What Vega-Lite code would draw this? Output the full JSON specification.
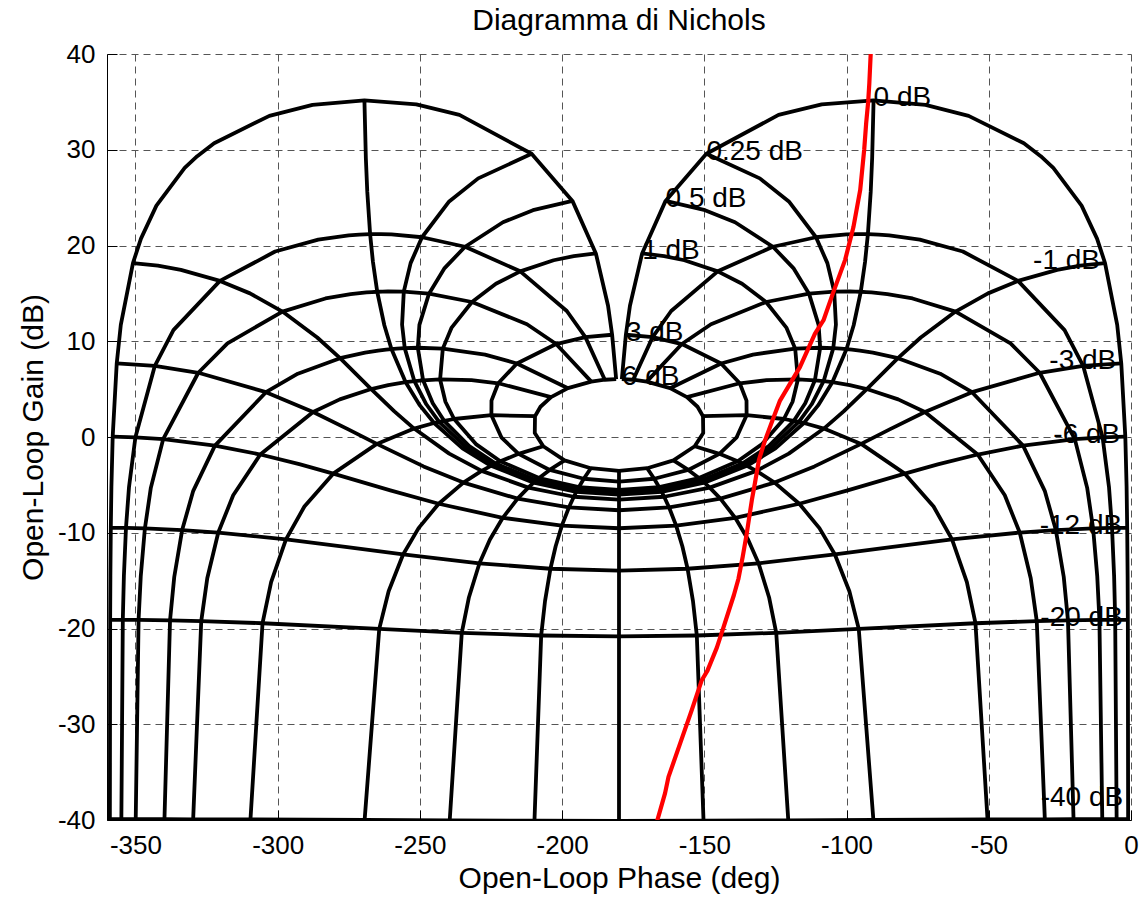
{
"$schema":"https://vega.github.io/schema/vega-lite/v6.json",
"width":1024,"height":766,
"autosize":{"type":"none"},
"padding":{"left":107,"top":54,"right":17,"bottom":82},
"background":"white",
"config":{"view":{"stroke":null},"font":"Liberation Sans"},
"title":{"text":"Diagramma di Nichols","fontSize":30,"fontWeight":"normal","font":"Liberation Sans","color":"#000","offset":5},
"datasets":{
"mesh":[
{"m":6,"k":1,"x":-179,"y":6.04},{"m":3,"k":1,"x":-177.58,"y":10.68},{"m":2,"k":1,"x":-176.15,"y":13.71},{"m":1,"k":1,"x":-171.87,"y":19.17},{"m":0.5,"k":1,"x":-163.63,"y":24.66},{"m":0.25,"k":1,"x":-149.27,"y":29.58},{"m":0.1,"k":1,"x":-123.91,"y":33.64},{"m":0.05,"k":1,"x":-108.75,"y":34.74},{"m":0,"k":1,"x":-90.5,"y":35.16},{"m":-0.05,"k":1,"x":-72.25,"y":34.69},{"m":-0.1,"k":1,"x":-57.09,"y":33.54},{"m":-0.2,"k":1,"x":-37.66,"y":30.68},{"m":-0.25,"k":1,"x":-31.73,"y":29.33},{"m":-0.3,"k":1,"x":-27.31,"y":28.1},{"m":-0.5,"k":1,"x":-17.37,"y":24.16},{"m":-0.75,"k":1,"x":-11.94,"y":20.72},{"m":-1,"k":1,"x":-9.13,"y":18.17},{"m":-2,"k":1,"x":-4.85,"y":11.71},{"m":-3,"k":1,"x":-3.42,"y":7.68},{"m":-6,"k":1,"x":-2,"y":0.04},{"m":-9,"k":1,"x":-1.55,"y":-5.2},{"m":-12,"k":1,"x":-1.34,"y":-9.49},{"m":-16,"k":1,"x":-1.19,"y":-14.5},{"m":-20,"k":1,"x":-1.11,"y":-19.09},{"m":-40,"k":1,"x":-1.01,"y":-39.91},{"m":-60,"k":1,"x":-1,"y":-59.99},
{"m":6,"k":359,"x":-181,"y":6.04},{"m":3,"k":359,"x":-182.42,"y":10.68},{"m":2,"k":359,"x":-183.85,"y":13.71},{"m":1,"k":359,"x":-188.13,"y":19.17},{"m":0.5,"k":359,"x":-196.37,"y":24.66},{"m":0.25,"k":359,"x":-210.73,"y":29.58},{"m":0.1,"k":359,"x":-236.09,"y":33.64},{"m":0.05,"k":359,"x":-251.25,"y":34.74},{"m":0,"k":359,"x":-269.5,"y":35.16},{"m":-0.05,"k":359,"x":-287.75,"y":34.69},{"m":-0.1,"k":359,"x":-302.91,"y":33.54},{"m":-0.2,"k":359,"x":-322.34,"y":30.68},{"m":-0.25,"k":359,"x":-328.27,"y":29.33},{"m":-0.3,"k":359,"x":-332.69,"y":28.1},{"m":-0.5,"k":359,"x":-342.63,"y":24.16},{"m":-0.75,"k":359,"x":-348.06,"y":20.72},{"m":-1,"k":359,"x":-350.87,"y":18.17},{"m":-2,"k":359,"x":-355.15,"y":11.71},{"m":-3,"k":359,"x":-356.58,"y":7.68},{"m":-6,"k":359,"x":-358,"y":0.04},{"m":-9,"k":359,"x":-358.45,"y":-5.2},{"m":-12,"k":359,"x":-358.66,"y":-9.49},{"m":-16,"k":359,"x":-358.81,"y":-14.5},{"m":-20,"k":359,"x":-358.89,"y":-19.09},{"m":-40,"k":359,"x":-358.99,"y":-39.91},{"m":-60,"k":359,"x":-359,"y":-59.99},
{"m":6,"k":5,"x":-175.01,"y":5.98},{"m":3,"k":5,"x":-168.18,"y":10.43},{"m":2,"k":5,"x":-161.65,"y":13.16},{"m":1,"k":5,"x":-145.29,"y":17.3},{"m":0.5,"k":5,"x":-125.89,"y":19.87},{"m":0.25,"k":5,"x":-110.74,"y":20.86},{"m":0.1,"k":5,"x":-100.01,"y":21.16},{"m":0.05,"k":5,"x":-96.27,"y":21.19},{"m":0,"k":5,"x":-92.5,"y":21.19},{"m":-0.05,"k":5,"x":-88.73,"y":21.14},{"m":-0.1,"k":5,"x":-84.99,"y":21.06},{"m":-0.25,"k":5,"x":-74.26,"y":20.61},{"m":-0.5,"k":5,"x":-59.11,"y":19.37},{"m":-1,"k":5,"x":-39.71,"y":16.3},{"m":-2,"k":5,"x":-23.35,"y":11.16},{"m":-3,"k":5,"x":-16.82,"y":7.43},{"m":-6,"k":5,"x":-9.99,"y":-0.03},{"m":-9,"k":5,"x":-7.74,"y":-5.22},{"m":-12,"k":5,"x":-6.67,"y":-9.5},{"m":-16,"k":5,"x":-5.94,"y":-14.51},{"m":-20,"k":5,"x":-5.56,"y":-19.09},{"m":-40,"k":5,"x":-5.05,"y":-39.91},{"m":-60,"k":5,"x":-5.01,"y":-59.99},
{"m":6,"k":355,"x":-184.99,"y":5.98},{"m":3,"k":355,"x":-191.82,"y":10.43},{"m":2,"k":355,"x":-198.35,"y":13.16},{"m":1,"k":355,"x":-214.71,"y":17.3},{"m":0.5,"k":355,"x":-234.11,"y":19.87},{"m":0.25,"k":355,"x":-249.26,"y":20.86},{"m":0.1,"k":355,"x":-259.99,"y":21.16},{"m":0.05,"k":355,"x":-263.73,"y":21.19},{"m":0,"k":355,"x":-267.5,"y":21.19},{"m":-0.05,"k":355,"x":-271.27,"y":21.14},{"m":-0.1,"k":355,"x":-275.01,"y":21.06},{"m":-0.25,"k":355,"x":-285.74,"y":20.61},{"m":-0.5,"k":355,"x":-300.89,"y":19.37},{"m":-1,"k":355,"x":-320.29,"y":16.3},{"m":-2,"k":355,"x":-336.65,"y":11.16},{"m":-3,"k":355,"x":-343.18,"y":7.43},{"m":-6,"k":355,"x":-350.01,"y":-0.03},{"m":-9,"k":355,"x":-352.26,"y":-5.22},{"m":-12,"k":355,"x":-353.33,"y":-9.5},{"m":-16,"k":355,"x":-354.06,"y":-14.51},{"m":-20,"k":355,"x":-354.44,"y":-19.09},{"m":-40,"k":355,"x":-354.95,"y":-39.91},{"m":-60,"k":355,"x":-354.99,"y":-59.99},
{"m":6,"k":10,"x":-170.25,"y":5.78},{"m":3,"k":10,"x":-157.9,"y":9.71},{"m":2,"k":10,"x":-147.65,"y":11.78},{"m":1,"k":10,"x":-128.31,"y":14.1},{"m":0.5,"k":10,"x":-113.2,"y":14.97},{"m":0.25,"k":10,"x":-104.34,"y":15.18},{"m":0.1,"k":10,"x":-98.76,"y":15.21},{"m":0.05,"k":10,"x":-96.89,"y":15.19},{"m":0,"k":10,"x":-95,"y":15.17},{"m":-0.05,"k":10,"x":-93.12,"y":15.14},{"m":-0.1,"k":10,"x":-91.24,"y":15.11},{"m":-0.25,"k":10,"x":-85.66,"y":14.93},{"m":-0.5,"k":10,"x":-76.8,"y":14.47},{"m":-1,"k":10,"x":-61.69,"y":13.1},{"m":-2,"k":10,"x":-42.35,"y":9.78},{"m":-3,"k":10,"x":-32.1,"y":6.71},{"m":-6,"k":10,"x":-19.75,"y":-0.22},{"m":-9,"k":10,"x":-15.41,"y":-5.31},{"m":-12,"k":10,"x":-13.32,"y":-9.55},{"m":-16,"k":10,"x":-11.87,"y":-14.53},{"m":-20,"k":10,"x":-11.1,"y":-19.1},{"m":-40,"k":10,"x":-10.1,"y":-39.91},{"m":-60,"k":10,"x":-10.01,"y":-59.99},
{"m":6,"k":350,"x":-189.75,"y":5.78},{"m":3,"k":350,"x":-202.1,"y":9.71},{"m":2,"k":350,"x":-212.35,"y":11.78},{"m":1,"k":350,"x":-231.69,"y":14.1},{"m":0.5,"k":350,"x":-246.8,"y":14.97},{"m":0.25,"k":350,"x":-255.66,"y":15.18},{"m":0.1,"k":350,"x":-261.24,"y":15.21},{"m":0.05,"k":350,"x":-263.11,"y":15.19},{"m":0,"k":350,"x":-265,"y":15.17},{"m":-0.05,"k":350,"x":-266.88,"y":15.14},{"m":-0.1,"k":350,"x":-268.76,"y":15.11},{"m":-0.25,"k":350,"x":-274.34,"y":14.93},{"m":-0.5,"k":350,"x":-283.2,"y":14.47},{"m":-1,"k":350,"x":-298.31,"y":13.1},{"m":-2,"k":350,"x":-317.65,"y":9.78},{"m":-3,"k":350,"x":-327.9,"y":6.71},{"m":-6,"k":350,"x":-340.25,"y":-0.22},{"m":-9,"k":350,"x":-344.59,"y":-5.31},{"m":-12,"k":350,"x":-346.68,"y":-9.55},{"m":-16,"k":350,"x":-348.13,"y":-14.53},{"m":-20,"k":350,"x":-348.9,"y":-19.1},{"m":-40,"k":350,"x":-349.9,"y":-39.91},{"m":-60,"k":350,"x":-349.99,"y":-59.99},
{"m":6,"k":20,"x":-162.05,"y":5.1},{"m":3,"k":20,"x":-144.11,"y":7.68},{"m":2,"k":20,"x":-132.91,"y":8.61},{"m":1,"k":20,"x":-118.06,"y":9.23},{"m":0.5,"k":20,"x":-109.27,"y":9.32},{"m":0.25,"k":20,"x":-104.67,"y":9.28},{"m":0.1,"k":20,"x":-101.87,"y":9.23},{"m":0.05,"k":20,"x":-100.94,"y":9.21},{"m":0,"k":20,"x":-100,"y":9.19},{"m":-0.05,"k":20,"x":-99.07,"y":9.16},{"m":-0.1,"k":20,"x":-98.13,"y":9.13},{"m":-0.25,"k":20,"x":-95.34,"y":9.03},{"m":-0.5,"k":20,"x":-90.73,"y":8.82},{"m":-1,"k":20,"x":-81.94,"y":8.23},{"m":-2,"k":20,"x":-67.09,"y":6.61},{"m":-3,"k":20,"x":-55.89,"y":4.68},{"m":-6,"k":20,"x":-37.95,"y":-0.9},{"m":-9,"k":20,"x":-30.32,"y":-5.62},{"m":-12,"k":20,"x":-26.42,"y":-9.72},{"m":-16,"k":20,"x":-23.64,"y":-14.62},{"m":-20,"k":20,"x":-22.16,"y":-19.15},{"m":-40,"k":20,"x":-20.2,"y":-39.92},{"m":-60,"k":20,"x":-20.02,"y":-59.99},
{"m":6,"k":340,"x":-197.95,"y":5.1},{"m":3,"k":340,"x":-215.89,"y":7.68},{"m":2,"k":340,"x":-227.09,"y":8.61},{"m":1,"k":340,"x":-241.94,"y":9.23},{"m":0.5,"k":340,"x":-250.73,"y":9.32},{"m":0.25,"k":340,"x":-255.33,"y":9.28},{"m":0.1,"k":340,"x":-258.13,"y":9.23},{"m":0.05,"k":340,"x":-259.06,"y":9.21},{"m":0,"k":340,"x":-260,"y":9.19},{"m":-0.05,"k":340,"x":-260.93,"y":9.16},{"m":-0.1,"k":340,"x":-261.87,"y":9.13},{"m":-0.25,"k":340,"x":-264.66,"y":9.03},{"m":-0.5,"k":340,"x":-269.27,"y":8.82},{"m":-1,"k":340,"x":-278.06,"y":8.23},{"m":-2,"k":340,"x":-292.91,"y":6.61},{"m":-3,"k":340,"x":-304.11,"y":4.68},{"m":-6,"k":340,"x":-322.05,"y":-0.9},{"m":-9,"k":340,"x":-329.68,"y":-5.62},{"m":-12,"k":340,"x":-333.58,"y":-9.72},{"m":-16,"k":340,"x":-336.36,"y":-14.62},{"m":-20,"k":340,"x":-337.84,"y":-19.15},{"m":-40,"k":340,"x":-339.8,"y":-39.92},{"m":-60,"k":340,"x":-339.98,"y":-59.99},
{"m":6,"k":30,"x":-156.11,"y":4.17},{"m":3,"k":30,"x":-137.55,"y":5.61},{"m":2,"k":30,"x":-128.16,"y":5.93},{"m":1,"k":30,"x":-117.11,"y":6.01},{"m":0.5,"k":30,"x":-111.13,"y":5.92},{"m":0.25,"k":30,"x":-108.07,"y":5.83},{"m":0,"k":30,"x":-105,"y":5.72},{"m":-0.25,"k":30,"x":-101.93,"y":5.58},{"m":-0.5,"k":30,"x":-98.87,"y":5.42},{"m":-1,"k":30,"x":-92.89,"y":5.01},{"m":-2,"k":30,"x":-81.84,"y":3.93},{"m":-3,"k":30,"x":-72.46,"y":2.61},{"m":-6,"k":30,"x":-53.89,"y":-1.83},{"m":-9,"k":30,"x":-44.37,"y":-6.09},{"m":-12,"k":30,"x":-39.12,"y":-9.98},{"m":-16,"k":30,"x":-35.25,"y":-14.75},{"m":-20,"k":30,"x":-33.13,"y":-19.23},{"m":-40,"k":30,"x":-30.29,"y":-39.93},{"m":-60,"k":30,"x":-30.03,"y":-59.99},
{"m":6,"k":330,"x":-203.89,"y":4.17},{"m":3,"k":330,"x":-222.45,"y":5.61},{"m":2,"k":330,"x":-231.84,"y":5.93},{"m":1,"k":330,"x":-242.89,"y":6.01},{"m":0.5,"k":330,"x":-248.87,"y":5.92},{"m":0.25,"k":330,"x":-251.93,"y":5.83},{"m":0,"k":330,"x":-255,"y":5.72},{"m":-0.25,"k":330,"x":-258.07,"y":5.58},{"m":-0.5,"k":330,"x":-261.13,"y":5.42},{"m":-1,"k":330,"x":-267.11,"y":5.01},{"m":-2,"k":330,"x":-278.16,"y":3.93},{"m":-3,"k":330,"x":-287.54,"y":2.61},{"m":-6,"k":330,"x":-306.11,"y":-1.83},{"m":-9,"k":330,"x":-315.63,"y":-6.09},{"m":-12,"k":330,"x":-320.88,"y":-9.98},{"m":-16,"k":330,"x":-324.75,"y":-14.75},{"m":-20,"k":330,"x":-326.87,"y":-19.23},{"m":-40,"k":330,"x":-329.71,"y":-39.93},{"m":-60,"k":330,"x":-329.97,"y":-59.99},
{"m":6,"k":50,"x":-150.47,"y":2.17},{"m":3,"k":50,"x":-135.14,"y":2.28},{"m":1,"k":50,"x":-122.03,"y":1.88},{"m":0.5,"k":50,"x":-118.53,"y":1.69},{"m":0.25,"k":50,"x":-116.77,"y":1.58},{"m":0,"k":50,"x":-115,"y":1.46},{"m":-1,"k":50,"x":-107.97,"y":0.88},{"m":-3,"k":50,"x":-94.86,"y":-0.72},{"m":-6,"k":50,"x":-79.53,"y":-3.83},{"m":-9,"k":50,"x":-69.4,"y":-7.26},{"m":-12,"k":50,"x":-62.92,"y":-10.69},{"m":-16,"k":50,"x":-57.7,"y":-15.15},{"m":-20,"k":50,"x":-54.68,"y":-19.45},{"m":-40,"k":50,"x":-50.44,"y":-39.94},{"m":-60,"k":50,"x":-50.04,"y":-59.99},
{"m":6,"k":310,"x":-209.53,"y":2.17},{"m":3,"k":310,"x":-224.86,"y":2.28},{"m":1,"k":310,"x":-237.97,"y":1.88},{"m":0.5,"k":310,"x":-241.47,"y":1.69},{"m":0.25,"k":310,"x":-243.23,"y":1.58},{"m":0,"k":310,"x":-245,"y":1.46},{"m":-1,"k":310,"x":-252.03,"y":0.88},{"m":-3,"k":310,"x":-265.14,"y":-0.72},{"m":-6,"k":310,"x":-280.47,"y":-3.83},{"m":-9,"k":310,"x":-290.6,"y":-7.26},{"m":-12,"k":310,"x":-297.08,"y":-10.69},{"m":-16,"k":310,"x":-302.3,"y":-15.15},{"m":-20,"k":310,"x":-305.32,"y":-19.45},{"m":-40,"k":310,"x":-309.56,"y":-39.94},{"m":-60,"k":310,"x":-309.96,"y":-59.99},
{"m":6,"k":90,"x":-153.38,"y":-0.97},{"m":3,"k":90,"x":-144.7,"y":-1.76},{"m":1,"k":90,"x":-138.29,"y":-2.54},{"m":0.5,"k":90,"x":-136.65,"y":-2.77},{"m":0.25,"k":90,"x":-135.82,"y":-2.89},{"m":0,"k":90,"x":-135,"y":-3.01},{"m":-1,"k":90,"x":-131.71,"y":-3.54},{"m":-3,"k":90,"x":-125.3,"y":-4.76},{"m":-6,"k":90,"x":-116.62,"y":-6.97},{"m":-9,"k":90,"x":-109.54,"y":-9.52},{"m":-12,"k":90,"x":-104.1,"y":-12.27},{"m":-16,"k":90,"x":-99.01,"y":-16.11},{"m":-20,"k":90,"x":-95.71,"y":-20.04},{"m":-40,"k":90,"x":-90.57,"y":-40},{"m":-60,"k":90,"x":-90.06,"y":-60},
{"m":6,"k":270,"x":-206.62,"y":-0.97},{"m":3,"k":270,"x":-215.3,"y":-1.76},{"m":1,"k":270,"x":-221.71,"y":-2.54},{"m":0.5,"k":270,"x":-223.35,"y":-2.77},{"m":0.25,"k":270,"x":-224.18,"y":-2.89},{"m":0,"k":270,"x":-225,"y":-3.01},{"m":-1,"k":270,"x":-228.29,"y":-3.54},{"m":-3,"k":270,"x":-234.7,"y":-4.76},{"m":-6,"k":270,"x":-243.38,"y":-6.97},{"m":-9,"k":270,"x":-250.46,"y":-9.52},{"m":-12,"k":270,"x":-255.9,"y":-12.27},{"m":-16,"k":270,"x":-260.99,"y":-16.11},{"m":-20,"k":270,"x":-264.29,"y":-20.04},{"m":-40,"k":270,"x":-269.43,"y":-40},{"m":-60,"k":270,"x":-269.94,"y":-60},
{"m":6,"k":120,"x":-160.86,"y":-2.44},{"m":3,"k":120,"x":-155.64,"y":-3.44},{"m":1,"k":120,"x":-151.9,"y":-4.29},{"m":0.5,"k":120,"x":-150.95,"y":-4.53},{"m":0.25,"k":120,"x":-150.48,"y":-4.65},{"m":0,"k":120,"x":-150,"y":-4.77},{"m":-1,"k":120,"x":-148.1,"y":-5.29},{"m":-3,"k":120,"x":-144.36,"y":-6.44},{"m":-6,"k":120,"x":-139.14,"y":-8.44},{"m":-9,"k":120,"x":-134.63,"y":-10.71},{"m":-12,"k":120,"x":-130.94,"y":-13.19},{"m":-16,"k":120,"x":-127.25,"y":-16.73},{"m":-20,"k":120,"x":-124.72,"y":-20.45},{"m":-40,"k":120,"x":-120.49,"y":-40.04},{"m":-60,"k":120,"x":-120.05,"y":-60},
{"m":6,"k":240,"x":-199.14,"y":-2.44},{"m":3,"k":240,"x":-204.36,"y":-3.44},{"m":1,"k":240,"x":-208.1,"y":-4.29},{"m":0.5,"k":240,"x":-209.05,"y":-4.53},{"m":0.25,"k":240,"x":-209.52,"y":-4.65},{"m":0,"k":240,"x":-210,"y":-4.77},{"m":-1,"k":240,"x":-211.9,"y":-5.29},{"m":-3,"k":240,"x":-215.64,"y":-6.44},{"m":-6,"k":240,"x":-220.86,"y":-8.44},{"m":-9,"k":240,"x":-225.37,"y":-10.71},{"m":-12,"k":240,"x":-229.06,"y":-13.19},{"m":-16,"k":240,"x":-232.75,"y":-16.73},{"m":-20,"k":240,"x":-235.28,"y":-20.45},{"m":-40,"k":240,"x":-239.51,"y":-40.04},{"m":-60,"k":240,"x":-239.95,"y":-60},
{"m":6,"k":150,"x":-170.09,"y":-3.26},{"m":3,"k":150,"x":-167.62,"y":-4.36},{"m":1,"k":150,"x":-165.88,"y":-5.24},{"m":0.5,"k":150,"x":-165.44,"y":-5.47},{"m":0.25,"k":150,"x":-165.22,"y":-5.6},{"m":0,"k":150,"x":-165,"y":-5.72},{"m":-1,"k":150,"x":-164.12,"y":-6.24},{"m":-3,"k":150,"x":-162.38,"y":-7.36},{"m":-6,"k":150,"x":-159.91,"y":-9.26},{"m":-9,"k":150,"x":-157.73,"y":-11.41},{"m":-12,"k":150,"x":-155.89,"y":-13.76},{"m":-16,"k":150,"x":-153.99,"y":-17.14},{"m":-20,"k":150,"x":-152.64,"y":-20.73},{"m":-40,"k":150,"x":-150.28,"y":-40.08},{"m":-60,"k":150,"x":-150.03,"y":-60.01},
{"m":6,"k":210,"x":-189.91,"y":-3.26},{"m":3,"k":210,"x":-192.38,"y":-4.36},{"m":1,"k":210,"x":-194.12,"y":-5.24},{"m":0.5,"k":210,"x":-194.56,"y":-5.47},{"m":0.25,"k":210,"x":-194.78,"y":-5.6},{"m":0,"k":210,"x":-195,"y":-5.72},{"m":-1,"k":210,"x":-195.88,"y":-6.24},{"m":-3,"k":210,"x":-197.62,"y":-7.36},{"m":-6,"k":210,"x":-200.09,"y":-9.26},{"m":-9,"k":210,"x":-202.27,"y":-11.41},{"m":-12,"k":210,"x":-204.11,"y":-13.76},{"m":-16,"k":210,"x":-206.01,"y":-17.14},{"m":-20,"k":210,"x":-207.36,"y":-20.73},{"m":-40,"k":210,"x":-209.72,"y":-40.08},{"m":-60,"k":210,"x":-209.97,"y":-60.01},
{"m":6,"k":180,"x":-180,"y":-3.53},{"m":3,"k":180,"x":-180,"y":-4.65},{"m":1,"k":180,"x":-180,"y":-5.53},{"m":0.5,"k":180,"x":-180,"y":-5.77},{"m":0.25,"k":180,"x":-180,"y":-5.9},{"m":0,"k":180,"x":-180,"y":-6.02},{"m":-1,"k":180,"x":-180,"y":-6.54},{"m":-3,"k":180,"x":-180,"y":-7.65},{"m":-6,"k":180,"x":-180,"y":-9.53},{"m":-12,"k":180,"x":-180,"y":-13.95},{"m":-20,"k":180,"x":-180,"y":-20.83},{"m":-40,"k":180,"x":-180,"y":-40.09},{"m":-60,"k":180,"x":-180,"y":-60.01},
{"m":1,"k":2,"x":-164.11,"y":18.89},{"m":-1,"k":2,"x":-17.89,"y":17.89},{"m":0.5,"k":2,"x":-149.76,"y":23.69},{"m":0.25,"k":2,"x":-130.5,"y":27.01},{"m":0,"k":2,"x":-91,"y":29.14},
{"m":1,"k":358,"x":-195.89,"y":18.89},{"m":-1,"k":358,"x":-342.11,"y":17.89},{"m":0.5,"k":358,"x":-210.24,"y":23.69},{"m":0.25,"k":358,"x":-229.5,"y":27.01},{"m":0,"k":358,"x":-269,"y":29.14},
{"m":1,"k":3,"x":-157.02,"y":18.46},{"m":-1,"k":3,"x":-25.98,"y":17.46},{"m":0.5,"k":3,"x":-139.2,"y":22.43},{"m":0.25,"k":3,"x":-120.29,"y":24.6},{"m":0,"k":3,"x":-91.5,"y":25.62},
{"m":1,"k":357,"x":-202.98,"y":18.46},{"m":-1,"k":357,"x":-334.02,"y":17.46},{"m":0.5,"k":357,"x":-220.8,"y":22.43},{"m":0.25,"k":357,"x":-239.71,"y":24.6},{"m":0,"k":357,"x":-268.5,"y":25.62},
{"m":1,"k":7,"x":-136.73,"y":16},{"m":-1,"k":7,"x":-50.27,"y":15},{"m":0.5,"k":7,"x":-118.69,"y":17.64},{"m":0.25,"k":7,"x":-106.74,"y":18.16},{"m":0,"k":7,"x":-93.5,"y":18.27},
{"m":1,"k":353,"x":-223.27,"y":16},{"m":-1,"k":353,"x":-309.73,"y":15},{"m":0.5,"k":353,"x":-241.31,"y":17.64},{"m":0.25,"k":353,"x":-253.26,"y":18.16},{"m":0,"k":353,"x":-266.5,"y":18.27},
{"m":1,"k":15,"x":-121.09,"y":11.39},{"m":-1,"k":15,"x":-73.91,"y":10.39},{"m":0.5,"k":15,"x":-109.83,"y":11.71},{"m":0.25,"k":15,"x":-103.74,"y":11.74},{"m":0,"k":15,"x":-97.5,"y":11.67},
{"m":1,"k":345,"x":-238.91,"y":11.39},{"m":-1,"k":345,"x":-286.09,"y":10.39},{"m":0.5,"k":345,"x":-250.17,"y":11.71},{"m":0.25,"k":345,"x":-256.26,"y":11.74},{"m":0,"k":345,"x":-262.5,"y":11.67},
{"m":6,"k":40,"x":-152.39,"y":3.16},{"m":-6,"k":40,"x":-67.61,"y":-2.84},{"m":3,"k":40,"x":-135.17,"y":3.8},{"m":-3,"k":40,"x":-84.84,"y":0.8},{"m":1,"k":40,"x":-118.98,"y":3.68},{"m":-1,"k":40,"x":-101.02,"y":2.68},{"m":0.5,"k":40,"x":-114.52,"y":3.52},{"m":0.25,"k":40,"x":-112.26,"y":3.42},{"m":0,"k":40,"x":-110,"y":3.3},
{"m":6,"k":320,"x":-207.61,"y":3.16},{"m":-6,"k":320,"x":-292.39,"y":-2.84},{"m":3,"k":320,"x":-224.83,"y":3.8},{"m":-3,"k":320,"x":-275.16,"y":0.8},{"m":1,"k":320,"x":-241.02,"y":3.68},{"m":-1,"k":320,"x":-258.98,"y":2.68},{"m":0.5,"k":320,"x":-245.48,"y":3.52},{"m":0.25,"k":320,"x":-247.74,"y":3.42},{"m":0,"k":320,"x":-250,"y":3.3},
{"m":6,"k":70,"x":-150.39,"y":0.42},{"m":-6,"k":70,"x":-99.61,"y":-5.58},{"m":3,"k":70,"x":-138.72,"y":-0.07},{"m":-3,"k":70,"x":-111.28,"y":-3.07},{"m":1,"k":70,"x":-129.69,"y":-0.74},{"m":-1,"k":70,"x":-120.31,"y":-1.74},{"m":0.5,"k":70,"x":-127.35,"y":-0.95},{"m":0.25,"k":70,"x":-126.18,"y":-1.07},{"m":0,"k":70,"x":-125,"y":-1.19},{"m":-12,"k":70,"x":-84.48,"y":-11.5},
{"m":6,"k":290,"x":-209.61,"y":0.42},{"m":-6,"k":290,"x":-260.39,"y":-5.58},{"m":3,"k":290,"x":-221.28,"y":-0.07},{"m":-3,"k":290,"x":-248.72,"y":-3.07},{"m":1,"k":290,"x":-230.31,"y":-0.74},{"m":-1,"k":290,"x":-239.69,"y":-1.74},{"m":0.5,"k":290,"x":-232.65,"y":-0.95},{"m":0.25,"k":290,"x":-233.82,"y":-1.07},{"m":0,"k":290,"x":-235,"y":-1.19},{"m":-12,"k":290,"x":-275.52,"y":-11.5}
],
"labs":[
{"m":6,"t":"6 dB","x":-179,"y":6.04},{"m":3,"t":"3 dB","x":-177.58,"y":10.68},{"m":1,"t":"1 dB","x":-171.87,"y":19.17},{"m":0.5,"t":"0.5 dB","x":-163.63,"y":24.66},{"m":0.25,"t":"0.25 dB","x":-149.27,"y":29.58},{"m":0,"t":"0 dB","x":-90.5,"y":35.16},
{"m":-1,"t":"-1 dB","x":-9.13,"y":18.17},{"m":-3,"t":"-3 dB","x":-3.42,"y":7.68},{"m":-6,"t":"-6 dB","x":-2,"y":0.04},{"m":-12,"t":"-12 dB","x":-1.34,"y":-9.49},{"m":-20,"t":"-20 dB","x":-1.11,"y":-19.09},{"m":-40,"t":"-40 dB","x":-1.01,"y":-37.9}
],
"red":[
{"i":1,"x":-91.3,"y":41},{"i":2,"x":-91.5,"y":40.1},{"i":3,"x":-92,"y":36.9},{"i":4,"x":-92.4,"y":35},{"i":5,"x":-93.1,"y":32.8},{"i":6,"x":-93.8,"y":30},{"i":7,"x":-95.2,"y":25.8},{"i":8,"x":-97.6,"y":21.9},{"i":9,"x":-100.5,"y":18.5},{"i":10,"x":-104.8,"y":15},{"i":11,"x":-108.1,"y":12.2},{"i":12,"x":-111.1,"y":10.8},{"i":13,"x":-116.4,"y":7.3},{"i":14,"x":-123.4,"y":3.8},{"i":15,"x":-125.6,"y":2.1},{"i":16,"x":-128.6,"y":-0.3},{"i":17,"x":-130.8,"y":-2.4},{"i":18,"x":-132.2,"y":-4.8},{"i":19,"x":-133.3,"y":-6.6},{"i":20,"x":-135.1,"y":-10.1},{"i":21,"x":-136.5,"y":-12.5},{"i":22,"x":-138,"y":-14.8},{"i":23,"x":-139.6,"y":-16.5},{"i":24,"x":-143.3,"y":-19.9},{"i":25,"x":-145.6,"y":-22},{"i":26,"x":-148.9,"y":-24.4},{"i":27,"x":-150.9,"y":-25.4},{"i":28,"x":-154.4,"y":-28.5},{"i":29,"x":-158.5,"y":-32},{"i":30,"x":-162.6,"y":-35.5},{"i":31,"x":-163.8,"y":-37.2},{"i":32,"x":-166.5,"y":-40},{"i":33,"x":-167,"y":-40.6}
]
},
"encoding":{
"x":{"field":"x","type":"quantitative","scale":{"domain":[-360,0],"nice":false,"zero":false},
 "axis":{"title":"Open-Loop Phase (deg)","values":[-350,-300,-250,-200,-150,-100,-50,0],"labelExpr":"'' + datum.value","grid":true,"gridColor":"#555","gridDash":[7,5],"gridWidth":1,"domainColor":"#000","domainWidth":1,"tickColor":"#000","tickSize":-10,"tickWidth":1,"labelFontSize":26,"labelColor":"#000","labelPadding":22,"labelFlush":false,"labelOverlap":false,"labelFont":"Liberation Sans","titleFont":"Liberation Sans","titleFontSize":30,"titleFontWeight":"normal","titleColor":"#000","titlePadding":5}},
"y":{"field":"y","type":"quantitative","scale":{"domain":[-40,40],"nice":false,"zero":false},
 "axis":{"title":"Open-Loop Gain (dB)","values":[-40,-30,-20,-10,0,10,20,30,40],"labelExpr":"'' + datum.value","grid":true,"gridColor":"#555","gridDash":[7,5],"gridWidth":1,"domainColor":"#000","domainWidth":1,"tickColor":"#000","tickSize":-10,"tickWidth":1,"labelFontSize":26,"labelColor":"#000","labelPadding":22,"labelFlush":false,"labelOverlap":false,"labelFont":"Liberation Sans","titleFont":"Liberation Sans","titleFontSize":30,"titleFontWeight":"normal","titleColor":"#000","titlePadding":9}}
},
"layer":[
{"data":{"name":"mesh"},"transform":[{"filter":{"field":"k","oneOf":[1,5,10,20,30,50,90,120,150,180,210,240,270,310,330,340,350,355,359]}}],
 "mark":{"type":"line","color":"#000","strokeWidth":3.8,"clip":true,"strokeJoin":"round"},
 "encoding":{"detail":{"field":"k"},"order":{"field":"m","sort":"descending"}}},
{"data":{"name":"mesh"},"transform":[{"filter":{"field":"m","oneOf":[6,3,1,0.5,0.25,0,-1,-3,-6,-12,-20,-40]}}],
 "mark":{"type":"line","color":"#000","strokeWidth":3.8,"clip":true,"strokeJoin":"round"},
 "encoding":{"detail":{"field":"m"},"order":{"field":"k"}}},
{"data":{"name":"red"},
 "mark":{"type":"line","color":"#ff0000","strokeWidth":4.2,"clip":true,"strokeJoin":"round"},
 "encoding":{"order":{"field":"i"}}},
{"data":{"name":"labs"},"transform":[{"filter":"datum.m >= 0"}],
 "mark":{"type":"text","align":"left","baseline":"middle","fontSize":28,"font":"Liberation Sans","color":"#000","dy":-2},
 "encoding":{"text":{"field":"t"}}},
{"data":{"name":"labs"},"transform":[{"filter":"datum.m < 0"}],
 "mark":{"type":"text","align":"right","baseline":"middle","fontSize":28,"font":"Liberation Sans","color":"#000","dx":-5,"dy":-2},
 "encoding":{"text":{"field":"t"}}}
]
}
